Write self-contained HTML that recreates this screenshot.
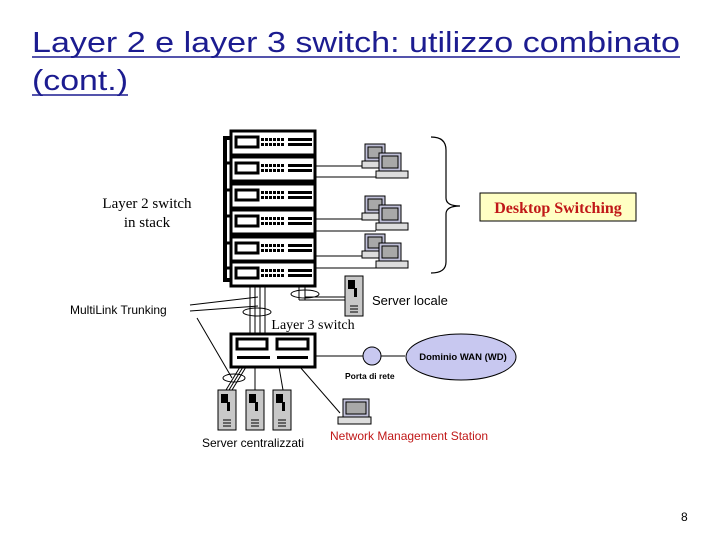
<!DOCTYPE html>
<html><head><meta charset="utf-8"><style>
html,body{margin:0;padding:0;background:#fff;width:720px;height:540px;overflow:hidden}
</style></head><body>
<svg width="720" height="540" viewBox="0 0 720 540" xmlns="http://www.w3.org/2000/svg">
<defs>
<g id="unit">
  <rect x="0" y="0" width="84" height="24" fill="#fff" stroke="#000" stroke-width="3"/>
  <rect x="5" y="6" width="22" height="10" fill="#fff" stroke="#000" stroke-width="3"/>
  <g fill="#000">
    <rect x="30" y="7" width="3" height="3"/><rect x="34" y="7" width="3" height="3"/><rect x="38" y="7" width="3" height="3"/><rect x="42" y="7" width="3" height="3"/><rect x="46" y="7" width="3" height="3"/><rect x="50" y="7" width="3" height="3"/>
    <rect x="30" y="12" width="3" height="3"/><rect x="34" y="12" width="3" height="3"/><rect x="38" y="12" width="3" height="3"/><rect x="42" y="12" width="3" height="3"/><rect x="46" y="12" width="3" height="3"/><rect x="50" y="12" width="3" height="3"/>
    <rect x="57" y="7" width="24" height="3"/><rect x="57" y="12" width="24" height="3"/>
  </g>
</g>
<g id="pc">
  <rect x="3" y="0" width="20" height="17" fill="#c0c0d8" stroke="#000"/>
  <rect x="6" y="3" width="14" height="11" fill="#a8a8a8" stroke="#000"/>
  <rect x="0" y="17" width="26" height="7" fill="#ddd" stroke="#000"/>
  <rect x="17" y="9" width="22" height="18" fill="#c0c0d8" stroke="#000"/>
  <rect x="20" y="12" width="16" height="12" fill="#a8a8a8" stroke="#000"/>
  <rect x="14" y="27" width="32" height="7" fill="#ddd" stroke="#000"/>
</g>
<g id="tower">
  <rect x="0" y="0" width="18" height="40" fill="#c8c8c8" stroke="#000"/>
  <rect x="3" y="4" width="7" height="9" fill="#000"/>
  <rect x="9" y="12" width="3" height="9" fill="#000"/>
  <line x1="5" y1="30" x2="13" y2="30" stroke="#000"/><line x1="5" y1="33" x2="13" y2="33" stroke="#000"/><line x1="5" y1="36" x2="13" y2="36" stroke="#000"/>
</g>
</defs>

<g font-family="Liberation Sans, sans-serif" font-size="29" fill="#1c1c90">
<text x="32" y="52" textLength="648" lengthAdjust="spacingAndGlyphs">Layer 2 e layer 3 switch: utilizzo combinato</text>
<text x="32" y="90" textLength="96" lengthAdjust="spacingAndGlyphs">(cont.)</text>
</g>
<line x1="32" y1="57" x2="680" y2="57" stroke="#1c1c90" stroke-width="1.5"/>
<line x1="32" y1="95" x2="128" y2="95" stroke="#1c1c90" stroke-width="1.5"/>

<!-- stack link bar -->
<path d="M231 138 H225 V280 H231" fill="none" stroke="#000" stroke-width="4"/>
<g stroke="#000" stroke-width="3"><line x1="225" y1="163" x2="231" y2="163"/><line x1="225" y1="190" x2="231" y2="190"/><line x1="225" y1="216" x2="231" y2="216"/><line x1="225" y1="243" x2="231" y2="243"/><line x1="225" y1="268" x2="231" y2="268"/></g>

<!-- stack -->
<rect x="231" y="130" width="84" height="52" fill="#000"/>
<rect x="231" y="183" width="84" height="52" fill="#000"/>
<rect x="231" y="236" width="84" height="50" fill="#000"/>
<use href="#unit" x="231" y="131"/>
<use href="#unit" x="231" y="157"/>
<use href="#unit" x="231" y="184"/>
<use href="#unit" x="231" y="210"/>
<use href="#unit" x="231" y="237"/>
<use href="#unit" x="231" y="262"/>

<!-- desktop lines -->
<g stroke="#000" stroke-width="1">
<line x1="315" y1="166" x2="364" y2="166"/><line x1="315" y1="177" x2="376" y2="177"/>
<line x1="315" y1="219" x2="364" y2="219"/><line x1="315" y1="231" x2="376" y2="231"/>
<line x1="315" y1="256" x2="364" y2="256"/><line x1="315" y1="268" x2="376" y2="268"/>
</g>
<use href="#pc" x="362" y="144"/>
<use href="#pc" x="362" y="196"/>
<use href="#pc" x="362" y="234"/>

<!-- brace -->
<path d="M431 137 Q446 137 446 150 V198 Q446 206 460 206 Q446 206 446 214 V262 Q446 273 431 273" fill="none" stroke="#000" stroke-width="1.2"/>

<rect x="480" y="193" width="156" height="28" fill="#ffffc4" stroke="#000"/>
<text x="558" y="213" text-anchor="middle" font-family="Liberation Serif, serif" font-weight="bold" font-size="16" fill="#c01818">Desktop Switching</text>

<g font-family="Liberation Serif, serif" font-size="15" fill="#000" text-anchor="middle">
<text x="147" y="208">Layer 2 switch</text>
<text x="147" y="227">in stack</text>
</g>

<!-- trunk lines -->
<g stroke="#000" stroke-width="1" fill="none">
<line x1="250" y1="286" x2="250" y2="334"/><line x1="255" y1="286" x2="255" y2="334"/><line x1="260" y1="286" x2="260" y2="334"/><line x1="265" y1="286" x2="265" y2="334"/>
<line x1="299" y1="286" x2="299" y2="300"/><line x1="305" y1="286" x2="305" y2="300"/>
<path d="M299 300 H345"/><path d="M305 297 H345"/>
<ellipse cx="305" cy="294" rx="14" ry="4"/>
<ellipse cx="257" cy="312" rx="14" ry="4"/>
<line x1="190" y1="305" x2="258" y2="297"/><line x1="190" y1="311" x2="258" y2="306"/>
<line x1="197" y1="318" x2="232" y2="378"/>
<line x1="315" y1="356" x2="363" y2="356"/><line x1="381" y1="356" x2="405" y2="356"/>
<line x1="240" y1="367" x2="226" y2="390"/><line x1="243" y1="367" x2="229" y2="390"/><line x1="246" y1="367" x2="232" y2="390"/>
<ellipse cx="234" cy="378" rx="11" ry="4"/>
<line x1="255" y1="367" x2="255" y2="390"/>
<line x1="279" y1="367" x2="283" y2="390"/>
<line x1="300" y1="367" x2="340" y2="413"/>
</g>
<use href="#tower" x="345" y="276"/>
<text x="372" y="305" font-family="Liberation Sans, sans-serif" font-size="13" fill="#000">Server locale</text>
<text x="313" y="329" text-anchor="middle" font-family="Liberation Serif, serif" font-size="14" fill="#000">Layer 3 switch</text>
<text x="70" y="314" font-family="Liberation Sans, sans-serif" font-size="12" fill="#000">MultiLink Trunking</text>

<!-- L3 switch -->
<rect x="231" y="334" width="84" height="33" fill="#fff" stroke="#000" stroke-width="3"/>
<rect x="237" y="339" width="30" height="10" fill="#fff" stroke="#000" stroke-width="3"/>
<rect x="277" y="339" width="31" height="10" fill="#fff" stroke="#000" stroke-width="3"/>
<rect x="237" y="356" width="33" height="3" fill="#000"/>
<rect x="277" y="356" width="31" height="3" fill="#000"/>

<circle cx="372" cy="356" r="9" fill="#c8c8f0" stroke="#000"/>
<ellipse cx="461" cy="357" rx="55" ry="23" fill="#c8c8f0" stroke="#000"/>
<text x="463" y="360" text-anchor="middle" font-family="Liberation Sans, sans-serif" font-weight="bold" font-size="9.5" fill="#000">Dominio WAN (WD)</text>
<text x="345" y="379" font-family="Liberation Sans, sans-serif" font-weight="bold" font-size="8.5" fill="#000">Porta di rete</text>

<use href="#tower" x="218" y="390"/>
<use href="#tower" x="246" y="390"/>
<use href="#tower" x="273" y="390"/>
<text x="202" y="447" font-family="Liberation Sans, sans-serif" font-size="12" fill="#000">Server centralizzati</text>

<!-- laptop -->
<rect x="343" y="399" width="26" height="18" fill="#c0c0d8" stroke="#000"/>
<rect x="346" y="402" width="20" height="12" fill="#a8a8a8" stroke="#000"/>
<rect x="338" y="417" width="33" height="7" fill="#ddd" stroke="#000"/>
<text x="330" y="440" font-family="Liberation Sans, sans-serif" font-size="12" fill="#c01818">Network Management Station</text>

<text x="681" y="521" font-family="Liberation Sans, sans-serif" font-size="12" fill="#000">8</text>
</svg>
</body></html>
